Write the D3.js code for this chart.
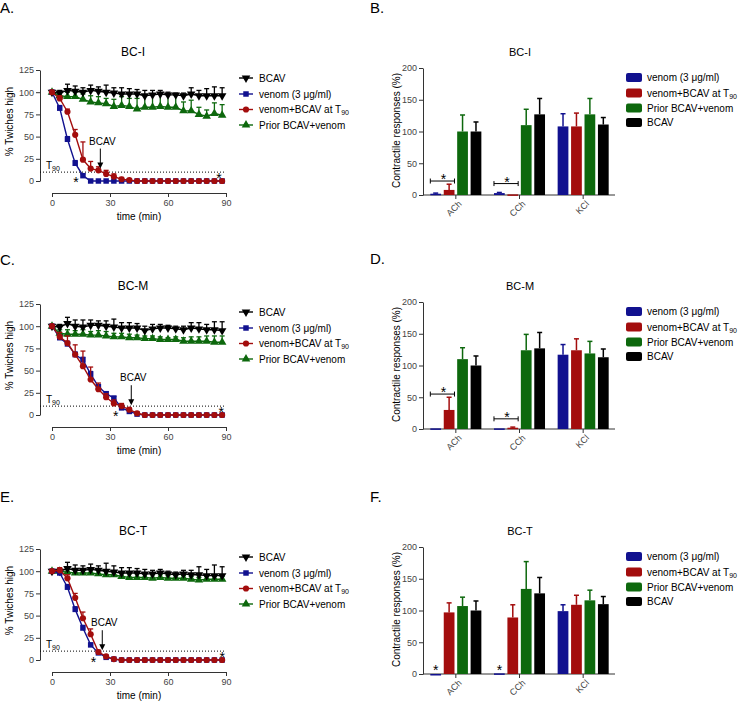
<!DOCTYPE html>
<html lang="en">
<head>
<meta charset="UTF-8">
<title>BCAV twitch and contractile responses</title>
<script src="https://d3js.org/d3.v7.min.js"></script>
<style>
  body { margin: 0; background: #fff; }
  svg { font-family: "Liberation Sans", Arial, sans-serif; }
  svg text { fill: #000; }
  .tick text { fill: #444; font-size: 9px; }
  .domain, .tick line { stroke: #333; }
</style>
</head>
<body>
<svg width="740" height="704"></svg>
<script>
// time points (min)
const times = [0, 4, 8, 12, 16, 20, 24, 28, 32, 36, 40, 44, 48, 52, 56, 60, 64, 68, 72, 76, 80, 84, 88];

// BC-I
const bciBcav = [100, 99, 102, 101, 100, 102, 101, 100, 99, 98, 98, 98, 96, 97, 98, 97, 97, 96, 98, 96, 96, 96, 96];
const bciBcavErr = [0, 3, 7, 6, 5, 6, 5, 8, 6, 7, 6, 5, 6, 5, 4, 3, 2, 3, 7, 6, 8, 10, 9];
const bciVenom = [100, 82, 47, 20, 6, 0, 0, 0, 0, 0, 0, 0, 0, 0, 0, 0, 0, 0, 0, 0, 0, 0, 0];
const bciVenomErr = [0, 3, 3, 3, 2, 1, 0, 0, 0, 0, 0, 0, 0, 0, 0, 0, 0, 0, 0, 0, 0, 0, 0];
const bciRescue = [100, 93, 78, 52, 24, 14, 12, 8, 5, 2, 1, 0, 0, 0, 0, 0, 0, 0, 0, 0, 0, 0, 0];
const bciRescueErr = [0, 3, 3, 6, 20, 8, 4, 4, 3, 2, 1, 0, 0, 0, 0, 0, 0, 0, 0, 0, 0, 0, 0];
const bciPrior = [100, 96, 95, 95, 92, 89, 88, 87, 84, 85, 84, 81, 83, 83, 84, 83, 83, 79, 79, 75, 73, 76, 74];
const bciPriorErr = [0, 3, 5, 5, 6, 7, 7, 6, 8, 10, 9, 12, 13, 15, 14, 15, 14, 10, 12, 8, 7, 12, 12];

// BC-M
const bcmBcav = [100, 99, 103, 100, 99, 101, 101, 100, 99, 98, 98, 98, 95, 97, 98, 98, 97, 96, 98, 97, 96, 96, 95];
const bcmBcavErr = [0, 3, 7, 7, 8, 6, 5, 6, 9, 6, 6, 5, 5, 5, 4, 3, 3, 4, 6, 7, 6, 9, 10];
const bcmVenom = [100, 87, 80, 68, 62, 46, 32, 24, 19, 8, 4, 1, 0, 0, 0, 0, 0, 0, 0, 0, 0, 0, 0];
const bcmVenomErr = [0, 3, 3, 3, 3, 3, 2, 2, 2, 2, 1, 0, 0, 0, 0, 0, 0, 0, 0, 0, 0, 0, 0];
const bcmRescue = [100, 88, 81, 68, 55, 40, 29, 20, 13, 10, 6, 2, 0, 0, 0, 0, 0, 0, 0, 0, 0, 0, 0];
const bcmRescueErr = [0, 5, 8, 11, 17, 14, 7, 4, 4, 3, 2, 1, 0, 0, 0, 0, 0, 0, 0, 0, 0, 0, 0];
const bcmPrior = [100, 92, 91, 91, 91, 90, 90, 89, 88, 88, 87, 87, 86, 86, 85, 85, 85, 83, 83, 83, 83, 82, 82];
const bcmPriorErr = [0, 4, 5, 4, 5, 4, 5, 5, 4, 4, 4, 3, 3, 3, 3, 2, 3, 4, 5, 5, 6, 7, 7];

// BC-T
const bctBcav = [100, 100, 103, 101, 101, 102, 101, 100, 99, 98, 98, 98, 97, 97, 98, 97, 96, 97, 96, 96, 95, 95, 95];
const bctBcavErr = [0, 3, 7, 6, 5, 6, 5, 9, 7, 6, 6, 5, 5, 4, 4, 3, 3, 4, 5, 9, 7, 12, 10];
const bctVenom = [100, 98, 82, 57, 36, 17, 8, 3, 1, 0, 0, 0, 0, 0, 0, 0, 0, 0, 0, 0, 0, 0, 0];
const bctVenomErr = [0, 2, 3, 3, 3, 2, 1, 1, 0, 0, 0, 0, 0, 0, 0, 0, 0, 0, 0, 0, 0, 0, 0];
const bctRescue = [100, 101, 92, 70, 47, 29, 9, 4, 1, 0, 0, 0, 0, 0, 0, 0, 0, 0, 0, 0, 0, 0, 0];
const bctRescueErr = [0, 3, 4, 5, 7, 6, 2, 1, 0, 0, 0, 0, 0, 0, 0, 0, 0, 0, 0, 0, 0, 0, 0];
const bctPrior = [100, 100, 99, 98, 98, 98, 97, 96, 96, 94, 93, 93, 93, 92, 93, 92, 92, 92, 91, 90, 91, 91, 91];
const bctPriorErr = [0, 3, 4, 4, 4, 4, 4, 4, 4, 4, 4, 4, 4, 4, 3, 3, 3, 3, 3, 3, 3, 3, 3];

// bar charts: rows = groups, cols = venom, venom+BCAV at T90, prior BCAV+venom, BCAV
const barGroups = ["ACh", "CCh", "KCl"];
const bciBars = [[2, 8, 100, 100], [3, 1, 110, 127], [108, 108, 127, 111]];
const bciBarsErr = [[1, 9, 26, 15], [1, 0, 25, 25], [20, 21, 25, 11]];
const bcmBars = [[1, 30, 110, 100], [1, 2, 124, 127], [117, 124, 119, 113]];
const bcmBarsErr = [[0, 20, 18, 15], [0, 1, 25, 25], [16, 18, 19, 13]];
const bctBars = [[0, 97, 107, 100], [1, 89, 134, 127], [99, 109, 116, 110]];
const bctBarsErr = [[0, 15, 14, 15], [0, 20, 43, 25], [10, 15, 16, 12]];

const cBlue = "#11118f", cRed = "#a30d0d", cGreen = "#0d680d", cBlack = "#000";

const svg = d3.select("svg");

// ---------- line panels ----------
const linePanels = [
  { letter: "A.", letterY: 13, title: "BC-I", dy: 0,
    bcav: [bciBcav, bciBcavErr], venom: [bciVenom, bciVenomErr], rescue: [bciRescue, bciRescueErr], prior: [bciPrior, bciPriorErr],
    arrow: [25, 14], stars: [[12.4, 1], [86.4, 6]] },
  { letter: "C.", letterY: 265, title: "BC-M", dy: 234,
    bcav: [bcmBcav, bcmBcavErr], venom: [bcmVenom, bcmVenomErr], rescue: [bcmRescue, bcmRescueErr], prior: [bcmPrior, bcmPriorErr],
    arrow: [41, 11], stars: [[33, 1.5], [87.5, 5.5]] },
  { letter: "E.", letterY: 502, title: "BC-T", dy: 479,
    bcav: [bctBcav, bctBcavErr], venom: [bctVenom, bctVenomErr], rescue: [bctRescue, bctRescueErr], prior: [bctPrior, bctPriorErr],
    arrow: [26, 11], stars: [[21.4, 0], [88, 5.5]] }
];

const symTri = d3.symbol().type(d3.symbolTriangle).size(32)();
const symSq = d3.symbol().type(d3.symbolSquare).size(30)();
const symCirc = d3.symbol().type(d3.symbolCircle).size(30)();

function drawLinePanel(p) {
  const g = svg.append("g");
  const x = d3.scaleLinear().domain([0, 90]).range([52, 226]);
  const y = d3.scaleLinear().domain([0, 125]).range([181 + p.dy, 70 + p.dy]);

  g.append("text").attr("x", 0).attr("y", p.letterY).attr("font-size", 15).text(p.letter);
  g.append("text").attr("x", 133).attr("y", 56 + p.dy).attr("text-anchor", "middle")
    .attr("font-size", 12).text(p.title);

  g.append("g").attr("transform", "translate(40,0)")
    .call(d3.axisLeft(y).tickValues([0, 25, 50, 75, 100, 125]).tickSize(4).tickSizeOuter(0).tickPadding(2));
  g.append("g").attr("transform", `translate(0,${y(0) + 12})`)
    .call(d3.axisBottom(x).tickValues([0, 30, 60, 90]).tickSize(4).tickSizeOuter(0).tickPadding(3));

  g.append("text").attr("transform", `translate(13,${y(62.5) - 4}) rotate(-90)`)
    .attr("text-anchor", "middle").attr("font-size", 10).text("% Twiches high");
  g.append("text").attr("x", x(45)).attr("y", y(0) + 39).attr("text-anchor", "middle")
    .attr("font-size", 10).text("time (min)");

  // T90 line
  g.append("line").attr("x1", 40).attr("x2", x(90)).attr("y1", y(10)).attr("y2", y(10))
    .attr("stroke", "#000").attr("stroke-dasharray", "1,2");
  const t90 = g.append("text").attr("x", 46).attr("y", y(10) - 3).attr("font-size", 10).text("T");
  t90.append("tspan").attr("font-size", 7).attr("dy", 2).text("90");

  const series = [
    { d: p.prior, color: cGreen, sym: symTri, rot: 0 },
    { d: p.bcav, color: cBlack, sym: symTri, rot: 180 },
    { d: p.venom, color: cBlue, sym: symSq, rot: 0 },
    { d: p.rescue, color: cRed, sym: symCirc, rot: 0 }
  ];
  const line = d3.line().x((d, i) => x(times[i])).y(d => y(d));
  series.forEach(s => {
    const [vals, errs] = s.d;
    const sg = g.append("g");
    sg.append("path").datum(vals).attr("d", line).attr("fill", "none")
      .attr("stroke", s.color).attr("stroke-width", 1.4);
    vals.forEach((v, i) => {
      const e = errs[i];
      if (e > 0) {
        const xx = x(times[i]);
        sg.append("line").attr("x1", xx).attr("x2", xx).attr("y1", y(v)).attr("y2", y(v + e))
          .attr("stroke", s.color).attr("stroke-width", 1.3);
        sg.append("line").attr("x1", xx - 2.5).attr("x2", xx + 2.5).attr("y1", y(v + e)).attr("y2", y(v + e))
          .attr("stroke", s.color).attr("stroke-width", 1.3);
      }
    });
    sg.selectAll("path.pt").data(vals).enter().append("path").attr("class", "pt")
      .attr("d", s.sym).attr("fill", s.color)
      .attr("transform", (d, i) => `translate(${x(times[i])},${y(d)}) rotate(${s.rot})`);
  });

  // BCAV arrow
  const ax = x(p.arrow[0]), ay = y(p.arrow[1]);
  g.append("line").attr("x1", ax).attr("x2", ax).attr("y1", ay - 20).attr("y2", ay - 4)
    .attr("stroke", "#000").attr("stroke-width", 1);
  g.append("path").attr("d", `M${ax - 3},${ay - 6}L${ax + 3},${ay - 6}L${ax},${ay}Z`).attr("fill", "#000");
  g.append("text").attr("x", ax + 2).attr("y", ay - 24).attr("text-anchor", "middle")
    .attr("font-size", 10).text("BCAV");

  p.stars.forEach(s => {
    g.append("text").attr("x", x(s[0])).attr("y", y(s[1]) + 7).attr("text-anchor", "middle")
      .attr("font-size", 14).text("*");
  });

  // legend
  const leg = [
    { label: "BCAV", color: cBlack, sym: symTri, rot: 180 },
    { label: "venom (3 \u03bcg/ml)", color: cBlue, sym: symSq, rot: 0 },
    { label: "venom+BCAV at T", sub: "90", color: cRed, sym: symCirc, rot: 0 },
    { label: "Prior BCAV+venom", color: cGreen, sym: symTri, rot: 0 }
  ];
  const ly = [78, 94, 109.5, 125];
  leg.forEach((l, i) => {
    const yy = ly[i] + p.dy;
    g.append("line").attr("x1", 239).attr("x2", 253).attr("y1", yy).attr("y2", yy)
      .attr("stroke", l.color).attr("stroke-width", 1.4);
    g.append("path").attr("d", l.sym).attr("fill", l.color)
      .attr("transform", `translate(246,${yy}) rotate(${l.rot})`);
    const t = g.append("text").attr("x", 259).attr("y", yy + 3.5).attr("font-size", 10).text(l.label);
    if (l.sub) t.append("tspan").attr("font-size", 7).attr("dy", 2).text(l.sub);
  });
}

linePanels.forEach(drawLinePanel);

// ---------- bar panels ----------
const barPanels = [
  { letter: "B.", letterY: 13, title: "BC-I", dy: 0, vals: bciBars, errs: bciBarsErr,
    brackets: [["ACh", 22], ["CCh", 18]], stars: [] },
  { letter: "D.", letterY: 264, title: "BC-M", dy: 234, vals: bcmBars, errs: bcmBarsErr,
    brackets: [["ACh", 55], ["CCh", 16]], stars: [] },
  { letter: "F.", letterY: 502, title: "BC-T", dy: 479, vals: bctBars, errs: bctBarsErr,
    brackets: [], stars: ["ACh", "CCh"] }
];
const barColors = [cBlue, cRed, cGreen, cBlack];
const barLabels = ["venom (3 \u03bcg/ml)", "venom+BCAV at T", "Prior BCAV+venom", "BCAV"];

function drawBarPanel(p) {
  const g = svg.append("g");
  const x0 = d3.scaleBand().domain(barGroups).range([424, 615]);
  const x1 = d3.scaleBand().domain([0, 1, 2, 3]).range([0, x0.bandwidth()]).paddingInner(0.2).paddingOuter(0.47);
  const y = d3.scaleLinear().domain([0, 200]).range([195 + p.dy, 68 + p.dy]);

  g.append("text").attr("x", 370).attr("y", p.letterY).attr("font-size", 15).text(p.letter);
  g.append("text").attr("x", 520).attr("y", 56 + p.dy).attr("text-anchor", "middle")
    .attr("font-size", 11).text(p.title);

  g.append("g").attr("transform", "translate(423,0)")
    .call(d3.axisLeft(y).tickValues([0, 50, 100, 150, 200]).tickSize(4).tickSizeOuter(0).tickPadding(2));
  const xa = g.append("g").attr("transform", `translate(0,${y(0)})`)
    .call(d3.axisBottom(x0).tickSize(4).tickSizeOuter(0));
  xa.select(".domain").attr("d", `M423,0H615`);
  xa.selectAll(".tick text")
    .attr("text-anchor", "end").attr("x", -2).attr("y", 5).attr("dy", "0.7em")
    .attr("transform", "rotate(-45)");

  g.append("text").attr("transform", `translate(400,${y(100) - 1}) rotate(-90)`)
    .attr("text-anchor", "middle").attr("font-size", 10).text("Contractile responses (%)");

  barGroups.forEach((grp, gi) => {
    p.vals[gi].forEach((v, si) => {
      const bx = x0(grp) + x1(si), bw = x1.bandwidth(), cx = bx + bw / 2;
      const e = p.errs[gi][si];
      if (e > 0) {
        g.append("line").attr("x1", cx).attr("x2", cx).attr("y1", y(v)).attr("y2", y(v + e))
          .attr("stroke", barColors[si]).attr("stroke-width", 1.5);
        g.append("line").attr("x1", cx - 2.5).attr("x2", cx + 2.5).attr("y1", y(v + e)).attr("y2", y(v + e))
          .attr("stroke", barColors[si]).attr("stroke-width", 1.5);
      }
      g.append("rect").attr("x", bx).attr("y", y(v)).attr("width", bw)
        .attr("height", Math.max(y(0) - y(v), 1.5)).attr("fill", barColors[si]);
    });
  });

  p.brackets.forEach(([grp, v]) => {
    const xa1 = x0(grp) + x1(0), xa2 = x0(grp) + x1(1) + x1.bandwidth();
    const yy = y(v);
    g.append("path").attr("d", `M${xa1},${yy - 2.5}V${yy + 2.5}M${xa1},${yy}H${xa2}M${xa2},${yy - 2.5}V${yy + 2.5}`)
      .attr("stroke", "#000").attr("fill", "none");
    g.append("text").attr("x", (xa1 + xa2) / 2 + 1).attr("y", yy + 3).attr("text-anchor", "middle")
      .attr("font-size", 14).text("*");
  });
  p.stars.forEach(grp => {
    const cx = x0(grp) + x1(0) + x1.bandwidth() / 2;
    g.append("text").attr("x", cx).attr("y", y(0) + 1).attr("text-anchor", "middle")
      .attr("font-size", 14).text("*");
  });

  const ly = [77.5, 93, 108, 122.5];
  barLabels.forEach((l, i) => {
    const yy = ly[i] + p.dy;
    g.append("rect").attr("x", 626).attr("y", yy - 4.5).attr("width", 16).attr("height", 9)
      .attr("rx", 2).attr("fill", barColors[i]);
    const t = g.append("text").attr("x", 647).attr("y", yy + 3.5).attr("font-size", 10).text(l);
    if (i === 1) t.append("tspan").attr("font-size", 7).attr("dy", 2).text("90");
  });
}

barPanels.forEach(drawBarPanel);
</script>
</body>
</html>
